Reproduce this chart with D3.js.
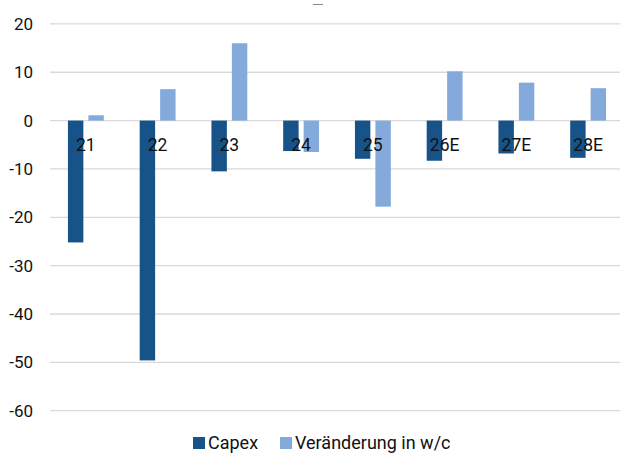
<!DOCTYPE html>
<html><head><meta charset="utf-8">
<script src="https://cdn.jsdelivr.net/npm/d3@7"></script>
<style>body{margin:0;background:#fff}svg{display:block}</style>
</head><body><svg id="c" width="620" height="453"></svg>
<script>
const categories = ["21","22","23","24","25","26E","27E","28E"];
const capex = [-25.2,-49.6,-10.5,-6.3,-7.9,-8.3,-6.8,-7.7];
const wc = [1.1,6.5,16.0,-6.5,-17.8,10.2,7.85,6.7];
const seriesNames = ["Capex","Veränderung in w/c"];
const yTicks = [20,10,0,-10,-20,-30,-40,-50,-60];
const colors = ["#175389","#84aadb"];

const svg = d3.select("#c");
const font = "Roboto, 'Liberation Sans', sans-serif";
const y = d3.scaleLinear().domain([-60,20]).range([410.7,23.9]);
const x = d3.scaleBand().domain(categories).range([50,624]).padding(0);
const step = x.step();
const bw = step*0.215, gap = step*0.07;

// gridlines
svg.append("g").selectAll("line").data(yTicks).join("line")
  .attr("x1",50).attr("x2",620)
  .attr("y1",d=>y(d)).attr("y2",d=>y(d))
  .attr("stroke","#d9d9d9").attr("stroke-width",1.3);

// y labels
svg.append("g").selectAll("text").data(yTicks).join("text")
  .attr("x",33).attr("y",d=>y(d)).attr("dy","0.35em")
  .attr("text-anchor","end").attr("font-family",font).attr("font-size",17).attr("fill","#111")
  .text(d=>d);

const cx = c => x(c)+step/2;
svg.append("g").selectAll("rect").data(categories).join("rect")
  .attr("x",c=>cx(c)-gap/2-bw).attr("width",bw)
  .attr("y",(c,i)=>y(Math.max(0,capex[i]))).attr("height",(c,i)=>Math.abs(y(capex[i])-y(0)))
  .attr("fill",colors[0]);
svg.append("g").selectAll("rect").data(categories).join("rect")
  .attr("x",c=>cx(c)+gap/2).attr("width",bw)
  .attr("y",(c,i)=>y(Math.max(0,wc[i]))).attr("height",(c,i)=>Math.abs(y(wc[i])-y(0)))
  .attr("fill",colors[1]);

// category labels
svg.append("g").selectAll("text").data(categories).join("text")
  .attr("x",c=>cx(c)).attr("y",y(0)+24.5).attr("dy","0.35em")
  .attr("text-anchor","middle").attr("font-family",font).attr("font-size",17.5).attr("fill","#111")
  .text(d=>d);

// small title mark
svg.append("line").attr("x1",313).attr("x2",323).attr("y1",4.5).attr("y2",4.5)
  .attr("stroke","#888").attr("stroke-width",1);

// legend
const lg = svg.append("g").attr("font-family",font).attr("font-size",18).attr("fill","#111");
const lx = [193,280];
seriesNames.forEach((n,i)=>{
  lg.append("rect").attr("x",lx[i]).attr("y",437).attr("width",12).attr("height",12).attr("fill",colors[i]);
  lg.append("text").attr("x",lx[i]+15).attr("y",449).text(n);
});
</script></body></html>
